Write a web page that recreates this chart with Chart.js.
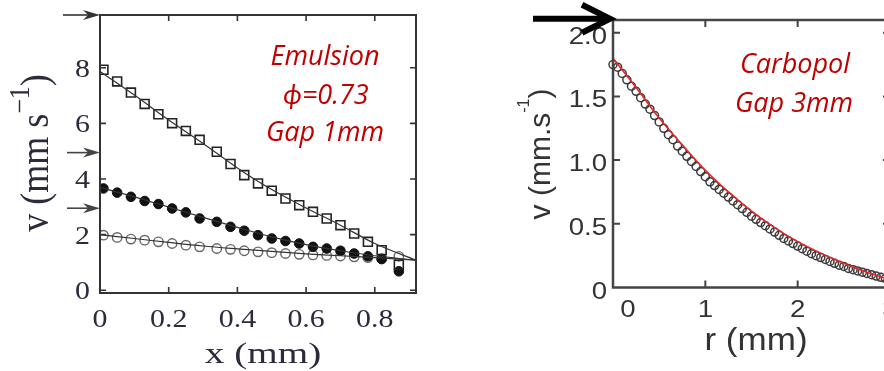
<!DOCTYPE html>
<html><head><meta charset="utf-8">
<script src="https://cdn.jsdelivr.net/npm/chart.js@4.4.1/dist/chart.umd.min.js"></script>
<style>
html,body{margin:0;padding:0;background:#fff;overflow:hidden;width:884px;height:371px;position:relative;}
#wrapL{position:absolute;left:0;top:0;width:440px;height:371px;}
#wrapR{position:absolute;left:480px;top:0;width:440px;height:371px;}
</style></head><body>
<div id="wrapL"><canvas id="cL"></canvas></div>
<div id="wrapR"><canvas id="cR"></canvas></div>
<script>
// ---------- Emulsion (left panel) ----------
const emulsionX = [0.01,0.05,0.09,0.13,0.17,0.21,0.25,0.29,0.34,0.38,0.42,0.46,0.50,0.54,0.58,0.62,0.66,0.70,0.74,0.78,0.82,0.87];
const squaresV  = [7.93,7.51,7.11,6.70,6.33,6.01,5.73,5.41,4.98,4.54,4.14,3.84,3.58,3.30,3.06,2.82,2.58,2.34,2.04,1.74,1.44,0.92];
const filledV   = [3.66,3.51,3.36,3.21,3.10,2.94,2.80,2.58,2.46,2.28,2.14,1.98,1.86,1.77,1.68,1.56,1.50,1.42,1.32,1.22,1.12,0.68];
const openV     = [1.98,1.90,1.84,1.80,1.74,1.68,1.62,1.56,1.50,1.47,1.42,1.38,1.35,1.32,1.29,1.27,1.25,1.23,1.20,1.17,1.14,1.22];
const fitX        = [0,0.1,0.2,0.3,0.4,0.5,0.6,0.7,0.8,0.92];
const fitSquares  = [7.87,7.02,6.12,5.28,4.40,3.62,2.96,2.34,1.68,1.08];
const fitFilled   = [3.70,3.36,2.99,2.62,2.26,1.92,1.64,1.42,1.24,1.08];
const fitOpen     = [2.00,1.86,1.72,1.59,1.49,1.40,1.31,1.24,1.17,1.08];
const emulsionXTicks = [0,0.2,0.4,0.6,0.8];
const emulsionXLabels = ['0','0.2','0.4','0.6','0.8'];
const emulsionYTicks = [0,2,4,6,8];
const emulsionYLabels = ['0','2','4','6','8'];
const emulsionArrowLevels = [9.9,4.95,2.95];

// ---------- Carbopol (right panel) ----------
const carbopolR = [0.00,0.05,0.10,0.15,0.20,0.25,0.30,0.35,0.40,0.45,0.50,0.55,0.60,0.65,0.70,0.75,0.80,0.85,0.90,0.95,
                   1.00,1.05,1.10,1.15,1.20,1.25,1.30,1.35,1.40,1.45,1.50,1.55,1.60,1.65,1.70,1.75,1.80,1.85,1.90,1.95,
                   2.00,2.05,2.10,2.15,2.20,2.25,2.30,2.35,2.40,2.45,2.50,2.55,2.60,2.65,2.70,2.75,2.80,2.85,2.90,2.95,3.00];
const carbopolV = [1.75,1.73,1.68,1.63,1.58,1.54,1.49,1.44,1.40,1.35,1.30,1.25,1.20,1.16,1.11,1.07,1.03,0.99,0.95,0.91,
                   0.87,0.83,0.80,0.77,0.74,0.71,0.68,0.65,0.62,0.59,0.56,0.535,0.51,0.485,0.46,0.435,0.41,0.385,0.365,0.345,
                   0.325,0.305,0.285,0.265,0.25,0.235,0.22,0.205,0.19,0.175,0.165,0.15,0.14,0.13,0.12,0.11,0.10,0.09,0.08,0.07,0.06];
const carbopolFitR = [0,0.25,0.5,0.75,1.0,1.25,1.5,1.75,2.0,2.25,2.5,2.75,3.0];
const carbopolFitV = [1.80,1.57,1.33,1.12,0.92,0.75,0.60,0.47,0.36,0.27,0.19,0.12,0.06];
const carbopolXTicks = [0,1,2,3];
const carbopolXLabels = ['0','1','2','3'];
const carbopolYTicks = [0,0.5,1,1.5,2];
const carbopolYLabels = ['0','0.5','1.0','1.5','2.0'];
const carbopolArrowLevels = [2.11];

const pts = (xs, ys) => xs.map((x,i)=>({x:x, y:ys[i]}));

// ---------- decoration plugin: frame, inward ticks, tick labels, arrows, titles, notes ----------
const deco = {
  id:'deco',
  afterDraw(chart, args, o){
    const ctx = chart.ctx, ca = chart.chartArea, xs = chart.scales.x, ys = chart.scales.y;
    ctx.save();
    ctx.strokeStyle = o.frameColor; ctx.lineWidth = o.frameWidth;
    ctx.strokeRect(ca.left, ca.top, ca.right-ca.left, ca.bottom-ca.top);
    ctx.lineWidth = o.tickWidth;
    ctx.beginPath();
    xs.ticks.forEach(t=>{
      const p = xs.getPixelForValue(t.value);
      if (p < ca.left+2 || p > ca.right-2) return;
      ctx.moveTo(p, ca.bottom); ctx.lineTo(p, ca.bottom-o.tickLen);
      ctx.moveTo(p, ca.top); ctx.lineTo(p, ca.top+o.tickLen);
    });
    ys.ticks.forEach(t=>{
      const p = ys.getPixelForValue(t.value);
      if (p < ca.top+2 || p > ca.bottom-2) return;
      ctx.moveTo(ca.left, p); ctx.lineTo(ca.left+o.tickLen, p);
      ctx.moveTo(ca.right, p); ctx.lineTo(ca.right-o.tickLen, p);
    });
    ctx.stroke();
    (o.tickLabels||[]).forEach(tl=>{
      const sc = chart.scales[tl.axis];
      sc.ticks.forEach((t,i)=>{
        const p = sc.getPixelForValue(t.value);
        ctx.save();
        ctx.font = tl.font; ctx.fillStyle = tl.color; ctx.textBaseline = 'alphabetic';
        if (tl.axis === 'x') {
          ctx.translate(p + ((tl.shift && tl.shift[i]) || 0), ca.bottom + tl.offset);
          ctx.textAlign = 'center';
        } else {
          ctx.translate(ca.left - tl.offset, p + tl.baseShift);
          ctx.textAlign = 'right';
        }
        ctx.scale(tl.sx || 1, 1);
        ctx.fillText(tl.labels[i], 0, 0);
        ctx.restore();
      });
    });
    (o.arrows||[]).forEach(a=>{
      const y = ys.getPixelForValue(a.value);
      const x0 = ca.left + a.from, x1 = ca.left + a.to;
      ctx.strokeStyle = a.color; ctx.fillStyle = a.color; ctx.lineWidth = a.width;
      ctx.lineCap = 'butt'; ctx.lineJoin = 'miter';
      if (a.head === 'fill') {
        ctx.beginPath(); ctx.moveTo(x0,y); ctx.lineTo(x1-a.headLen*0.6,y); ctx.stroke();
        ctx.beginPath(); ctx.moveTo(x1,y); ctx.lineTo(x1-a.headLen,y-a.headHalf);
        ctx.lineTo(x1-a.headLen*0.7,y); ctx.lineTo(x1-a.headLen,y+a.headHalf); ctx.closePath(); ctx.fill();
      } else {
        ctx.beginPath(); ctx.moveTo(x0,y); ctx.lineTo(x1-3,y); ctx.stroke();
        ctx.beginPath(); ctx.moveTo(x1-a.headLen,y-a.headHalf); ctx.lineTo(x1,y); ctx.lineTo(x1-a.headLen,y+a.headHalf); ctx.stroke();
      }
    });
    (o.texts||[]).forEach(t=>{
      ctx.save();
      ctx.translate(t.x, t.y);
      ctx.rotate(t.rot||0);
      ctx.scale(t.sx||1, t.sy||1);
      ctx.fillStyle = t.color; ctx.textBaseline = 'alphabetic'; ctx.textAlign = 'left';
      let total = 0;
      t.parts.forEach(p=>{ ctx.font = p.font; p.w = ctx.measureText(p.s).width; total += p.w; });
      let x = -total/2;
      t.parts.forEach(p=>{ ctx.font = p.font; ctx.fillText(p.s, x, -(p.rise||0)); x += p.w; });
      ctx.restore();
    });
    ctx.restore();
  }
};

const fixedTicks = arr => (scale => { scale.ticks = arr.map(v=>({value:v})); });

// ---------- Left chart ----------
const serif = "'Liberation Serif','Times New Roman',serif";
const note = "'Open Sans','Lato',sans-serif";
const red = '#c00000';
const inkL = '#2b2b3b';
new Chart(document.getElementById('cL'), {
  type:'scatter',
  data:{datasets:[
    {type:'line', data:pts(fitX,fitSquares), borderColor:'#333', borderWidth:1.2, pointRadius:0, tension:0.35, fill:false},
    {type:'line', data:pts(fitX,fitFilled), borderColor:'#333', borderWidth:1.2, pointRadius:0, tension:0.35, fill:false},
    {type:'line', data:pts(fitX,fitOpen), borderColor:'#333', borderWidth:1.2, pointRadius:0, tension:0.35, fill:false},
    {data:pts(emulsionX,squaresV), pointStyle:'rect', pointRadius:6.3, borderColor:'#222', borderWidth:1.6, backgroundColor:'rgba(255,255,255,0)'},
    {data:pts(emulsionX,filledV), pointStyle:'circle', pointRadius:4.8, borderColor:'#111', borderWidth:1, backgroundColor:'#111'},
    {data:pts(emulsionX,openV), pointStyle:'circle', pointRadius:4.7, borderColor:'#666', borderWidth:1.4, backgroundColor:'rgba(255,255,255,0)'}
  ]},
  options:{
    responsive:true, maintainAspectRatio:false, animation:false, events:[],
    layout:{padding:{top:15,right:24,left:0,bottom:0}},
    plugins:{legend:{display:false}, tooltip:{enabled:false},
      deco:{
        frameColor:'#333', frameWidth:2, tickWidth:1.6, tickLen:6,
        tickLabels:[
          {axis:'x', labels:emulsionXLabels, font:'26px '+serif, color:inkL, sx:1.15, offset:34},
          {axis:'y', labels:emulsionYLabels, font:'26px '+serif, color:inkL, sx:1.15, offset:10, baseShift:9}
        ],
        arrows:[
          {value:emulsionArrowLevels[0], from:-37, to:0, color:'#333', width:1.6, head:'fill', headLen:17, headHalf:5},
          {value:emulsionArrowLevels[1], from:-33, to:0, color:'#444', width:1.6, head:'fill', headLen:17, headHalf:5},
          {value:emulsionArrowLevels[2], from:-33, to:0, color:'#444', width:1.6, head:'fill', headLen:17, headHalf:5}
        ],
        texts:[
          {x:263, y:363, sx:1.35, color:inkL, parts:[{s:'x (mm)', font:'29px '+serif}]},
          {x:48, y:153, rot:-Math.PI/2, sy:1.1, color:inkL, parts:[
            {s:'v (mm s', font:'36px '+serif},
            {s:'\u22121', font:'26px '+serif, rise:17},
            {s:')', font:'36px '+serif}]},
          {x:325, y:65, color:red, parts:[{s:'Emulsion', font:'italic 27px '+note}]},
          {x:326, y:104, color:red, parts:[{s:'\u03D5=0.73', font:'italic 27px '+note}]},
          {x:325, y:141, color:red, parts:[{s:'Gap 1mm', font:'italic 27px '+note}]}
        ]
      }
    },
    scales:{
      x:{type:'linear', min:0, max:0.92,
         grid:{display:false, drawTicks:false}, border:{display:false},
         afterBuildTicks:fixedTicks(emulsionXTicks),
         afterFit:s=>{s.height=78;},
         ticks:{display:false}},
      y:{type:'linear', min:-0.1, max:9.9,
         grid:{display:false, drawTicks:false}, border:{display:false},
         afterBuildTicks:fixedTicks(emulsionYTicks),
         afterFit:s=>{s.width=100;},
         ticks:{display:false}}
    }
  },
  plugins:[deco]
});

// ---------- Right chart ----------
const sans = "'Liberation Sans',Arial,Helvetica,sans-serif";
const inkR = '#333';
new Chart(document.getElementById('cR'), {
  type:'scatter',
  data:{datasets:[
    {type:'line', data:pts(carbopolFitR,carbopolFitV), borderColor:'#e8262a', borderWidth:1.6, pointRadius:0, tension:0.4, fill:false, clip:false},
    {data:pts(carbopolR,carbopolV), pointStyle:'circle', pointRadius:4, borderColor:'#3a3a3a', borderWidth:1.5, backgroundColor:'rgba(255,255,255,0)', clip:false}
  ]},
  options:{
    responsive:true, maintainAspectRatio:false, animation:false, events:[],
    layout:{padding:{top:20,right:30,left:0,bottom:0}},
    plugins:{legend:{display:false}, tooltip:{enabled:false},
      deco:{
        frameColor:'#444', frameWidth:2.5, tickWidth:2, tickLen:7,
        tickLabels:[
          {axis:'x', labels:carbopolXLabels, font:'24px '+sans, color:inkR, sx:1.15, offset:29.5, shift:[15,0,0,0]},
          {axis:'y', labels:carbopolYLabels, font:'24px '+sans, color:inkR, sx:1.15, offset:6, baseShift:11}
        ],
        arrows:[
          {value:carbopolArrowLevels[0], from:-80, to:-3, color:'#000', width:6, head:'open', headLen:28, headHalf:14}
        ],
        texts:[
          {x:276, y:350, sx:1.13, color:inkR, parts:[{s:'r (mm)', font:'31px '+sans}]},
          {x:70, y:154, rot:-Math.PI/2, color:inkR, parts:[
            {s:'v (mm.s', font:'30px '+sans},
            {s:'-1', font:'16px '+sans, rise:21},
            {s:')', font:'30px '+sans}]},
          {x:315, y:73, color:red, parts:[{s:'Carbopol', font:'italic 27px '+note}]},
          {x:314, y:112, color:red, parts:[{s:'Gap 3mm', font:'italic 27px '+note}]}
        ]
      }
    },
    scales:{
      x:{type:'linear', min:0, max:3,
         grid:{display:false, drawTicks:false}, border:{display:false},
         afterBuildTicks:fixedTicks(carbopolXTicks),
         afterFit:s=>{s.height=83.5;},
         ticks:{display:false}},
      y:{type:'linear', min:0, max:2.1,
         grid:{display:false, drawTicks:false}, border:{display:false},
         afterBuildTicks:fixedTicks(carbopolYTicks),
         afterFit:s=>{s.width=133;},
         ticks:{display:false}}
    }
  },
  plugins:[deco]
});
</script>
</body></html>
